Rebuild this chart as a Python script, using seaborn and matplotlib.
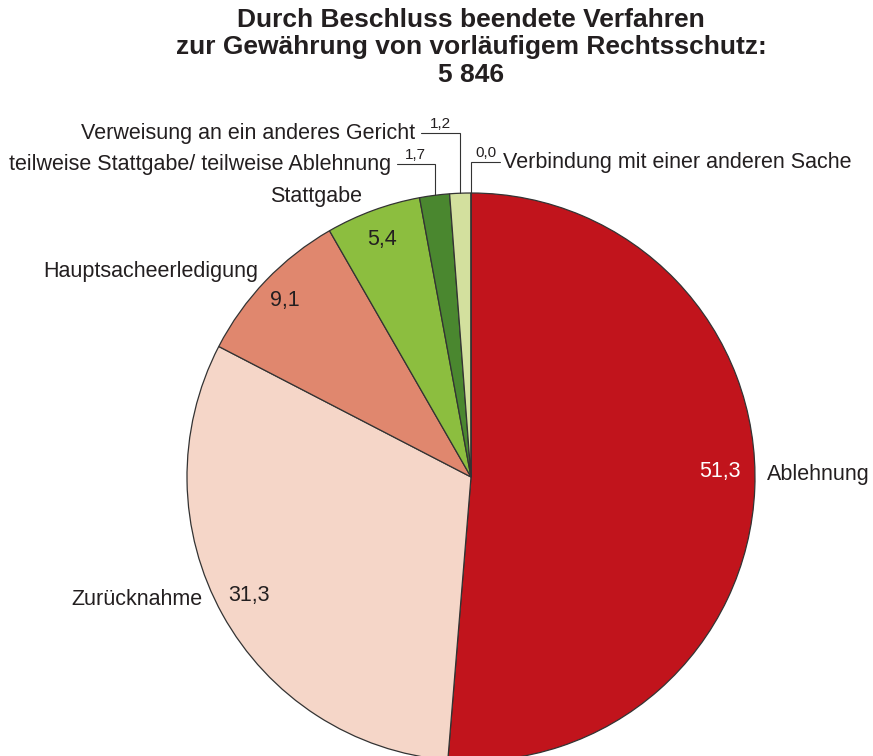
import numpy as np
import matplotlib
matplotlib.use("Agg")
import matplotlib.pyplot as plt
import seaborn as sns

# data
categories = ["Ablehnung", "Zurücknahme", "Hauptsacheerledigung", "Stattgabe",
              "teilweise Stattgabe/ teilweise Ablehnung",
              "Verweisung an ein anderes Gericht",
              "Verbindung mit einer anderen Sache"]
values = [51.3, 31.3, 9.1, 5.4, 1.7, 1.2, 0.0]
value_labels = ["51,3", "31,3", "9,1", "5,4", "1,7", "1,2", "0,0"]
colors = ["#C1141C", "#F5D6C8", "#E0876E", "#8CBE3F", "#4A872F", "#D3E09E", "#E8EFC8"]
title = "Durch Beschluss beendete Verfahren\nzur Gewährung von vorläufigem Rechtsschutz:\n5 846"

sns.set_theme(style="white")
plt.rcParams['font.family'] = ['Liberation Sans', 'DejaVu Sans']
ink = "#231F20"

W, H = 873, 756
cx, cy, R = 471, 477, 284
fig = plt.figure(figsize=(W / 100, H / 100), dpi=100)
ax = fig.add_axes([0, 0, 1, 1])

wedges, _ = ax.pie(values, colors=colors, startangle=90, counterclock=False,
                   radius=1, wedgeprops=dict(edgecolor="#333333", linewidth=0.9))
ax.set_xlim(-cx / R, (W - cx) / R)
ax.set_ylim(-(H - cy) / R, cy / R)
ax.set_aspect("equal")
ax.axis("off")

# mid angles of wedges (degrees)
mids = [(w.theta1 + w.theta2) / 2 for w in wedges]

fs = 15.5
# labels inside / beside the larger slices
ax.text(0.877, 0.018, value_labels[0], color="white", fontsize=fs, ha="center", va="center")
ax.text(1.042, 0.01, categories[0], color=ink, fontsize=fs, ha="left", va="center")
ax.text(-0.782, -0.419, value_labels[1], color=ink, fontsize=fs, ha="center", va="center")
ax.text(-0.947, -0.433, categories[1], color=ink, fontsize=fs, ha="right", va="center")
ax.text(-0.655, 0.623, value_labels[2], color=ink, fontsize=fs, ha="center", va="center")
ax.text(-0.75, 0.722, categories[2], color=ink, fontsize=fs, ha="right", va="center")
ax.text(-0.313, 0.835, value_labels[3], color=ink, fontsize=fs, ha="center", va="center")
ax.text(-0.384, 0.986, categories[3], color=ink, fontsize=fs, ha="right", va="center")

# leader lines for the small slices: (index, line height, horizontal end)
leaders = [(4, 1.102, -0.261), (5, 1.211, -0.176), (6, 1.109, 0.102)]
for i, top, xend in leaders:
    a = np.deg2rad(mids[i])
    x0, y0 = np.cos(a), np.sin(a)
    ax.plot([x0, x0, xend], [y0, top, top], color="#333333", lw=0.8, solid_joinstyle="miter")
    ax.text((x0 + xend) / 2, top + 0.008, value_labels[i], color=ink, fontsize=11,
            ha="center", va="bottom")
    if xend < x0:
        ax.text(xend - 0.021, top, categories[i], color=ink, fontsize=fs, ha="right", va="center")
    else:
        ax.text(xend + 0.011, top, categories[i], color=ink, fontsize=fs, ha="left", va="center")

fig.text(cx / W, 0.990, title, ha="center", va="top", fontsize=19, fontweight="bold",
         color=ink, linespacing=1.2)

fig.savefig("out.png", dpi=100)
